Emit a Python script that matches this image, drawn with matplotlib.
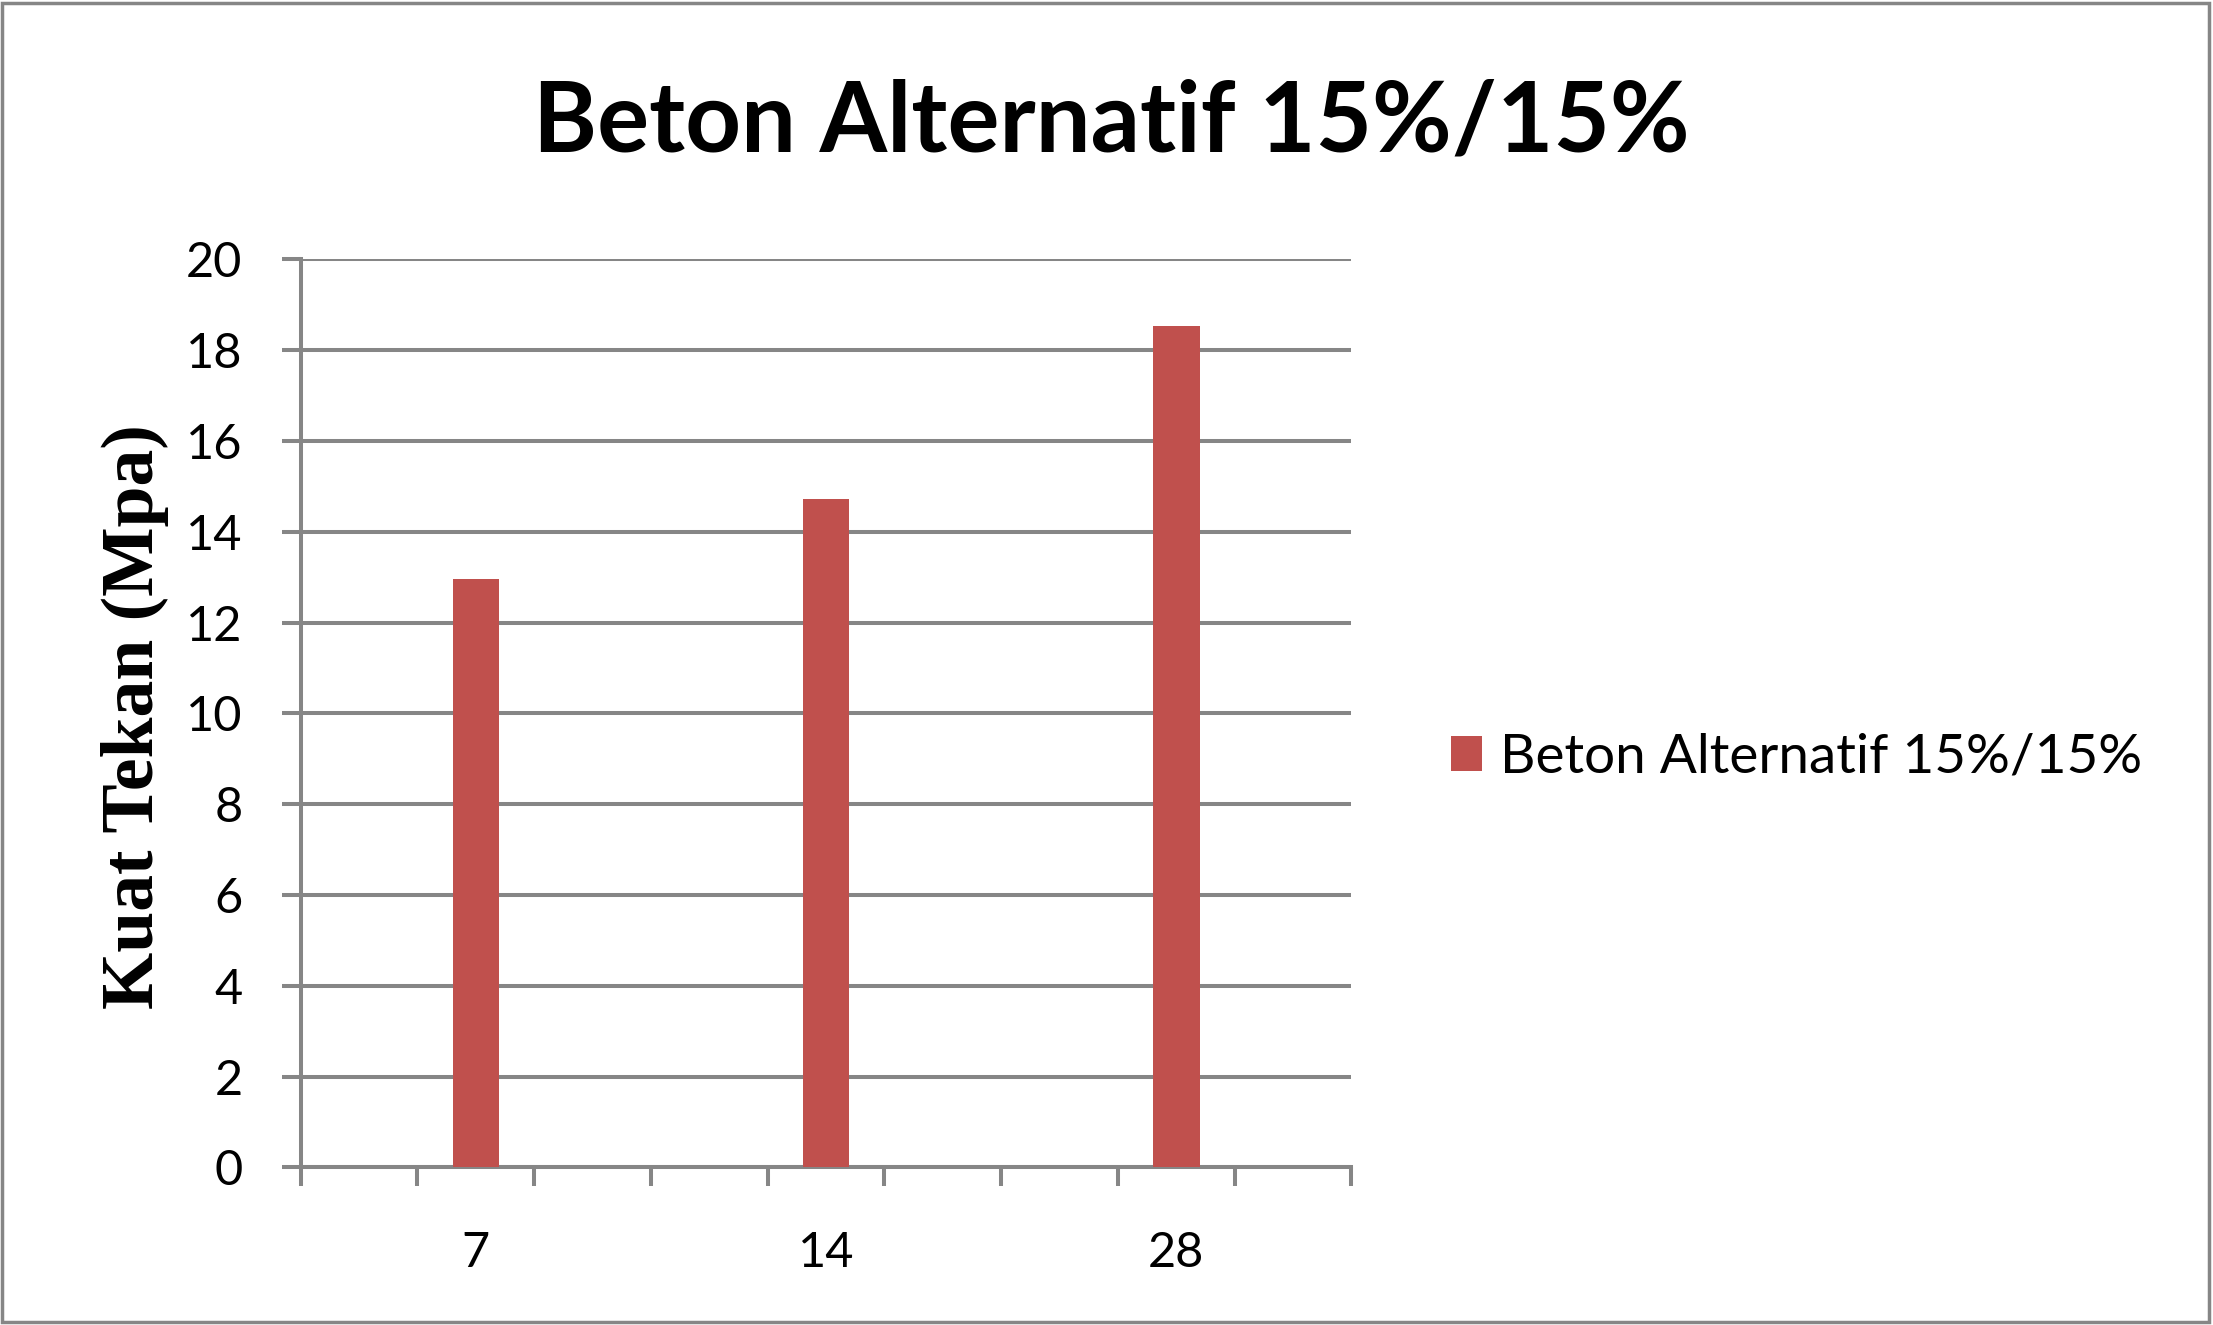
import matplotlib
matplotlib.use("Agg")
import matplotlib.pyplot as plt
import numpy as np
from matplotlib.patches import Rectangle
from matplotlib.ticker import FixedLocator

# umur beton (hari) - kategori kosong dibiarkan tanpa label seperti grafik aslinya
categories = ["", "7", "", "", "14", "", "", "28", ""]
kuat_tekan = [np.nan, 12.95, np.nan, np.nan, 14.72, np.nan, np.nan, 18.53, np.nan]
series_name = "Beton Alternatif 15%/15%"
title = "Beton Alternatif 15%/15%"
ylabel = "Kuat Tekan (Mpa)"
yticks = [0, 2, 4, 6, 8, 10, 12, 14, 16, 18, 20]

grey = "#868686"
bar_color = "#C0504D"
font = "Lato"

fig = plt.figure(figsize=(22.13, 13.25), dpi=100)
ax = fig.add_axes([0.1359, 0.1189, 0.4748, 0.6854])

x = np.arange(len(categories))
ax.bar(x, kuat_tekan, width=0.40, color=bar_color, label=series_name, zorder=3)

ax.set_xlim(-0.5, len(categories) - 0.5)
ax.set_ylim(0, 20)
ax.set_yticks(yticks)
ax.set_yticklabels([str(v) for v in yticks], fontsize=35, family=font)
ax.yaxis.grid(True, color=grey, linewidth=2.9, zorder=1)
ax.set_axisbelow(True)

# label kategori di tengah, tanda tick di batas kategori
ax.set_xticks(x)
ax.set_xticklabels(categories, fontsize=35, family=font)
ax.xaxis.set_minor_locator(FixedLocator(np.arange(-0.5, len(categories), 1.0)))
ax.tick_params(axis="x", which="major", length=0, pad=46)
ax.tick_params(axis="x", which="minor", length=14, width=2.9, color=grey, direction="out")
ax.tick_params(axis="y", length=14, width=2.9, color=grey, direction="out", pad=28)

for s in ["top", "right"]:
    ax.spines[s].set_visible(False)
for s in ["left", "bottom"]:
    ax.spines[s].set_color(grey)
    ax.spines[s].set_linewidth(2.9)

fig.text(0.502, 1 - 152 / 1325, title, ha="center", va="baseline",
         fontsize=70, fontweight="bold", family=font)
fig.text(0.061, 0.459, ylabel, rotation=90, ha="center", va="center",
         fontsize=53, fontweight="bold", family="Liberation Serif")

fig.legend(loc="center left", bbox_to_anchor=(1451 / 2213, 1 - 757 / 1325),
           frameon=False, prop={"family": font, "size": 39.5},
           handlelength=0.56, handleheight=0.6, handletextpad=0.33,
           borderpad=0, borderaxespad=0)

fig.patches.append(Rectangle((0.001, 0.002), 0.997, 0.996, transform=fig.transFigure,
                             fill=False, edgecolor=grey, linewidth=2.5))

fig.savefig("out.png", dpi=100)
